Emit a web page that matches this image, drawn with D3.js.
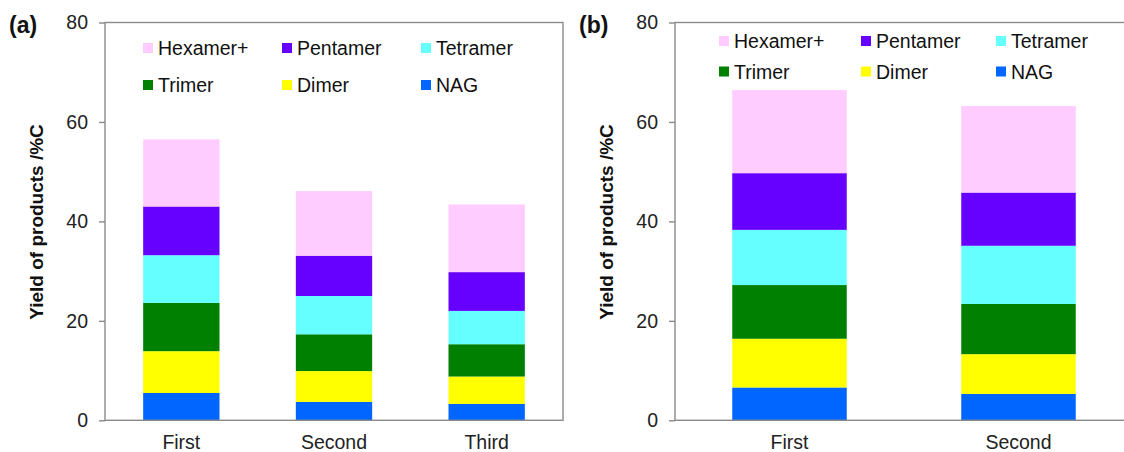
<!DOCTYPE html>
<html>
<head>
<meta charset="utf-8">
<script src="https://cdn.jsdelivr.net/npm/d3@7"></script>
<style>
  body { margin: 0; background: #fff; }
  svg { display: block; font-family: Arial, "Liberation Sans", sans-serif; }
</style>
</head>
<body>
<div id="vis"></div>
<script>
// series, bottom to top
const series = ["NAG", "Dimer", "Trimer", "Tetramer", "Pentamer", "Hexamer+"];
const colors = ["#0066FF", "#FFFF00", "#008000", "#66FFFF", "#6600FF", "#FFCCFF"];
const legendOrder = ["Hexamer+", "Pentamer", "Tetramer", "Trimer", "Dimer", "NAG"];

// panel (a)
const catsA = ["First", "Second", "Third"];
const aFirst  = [5.5, 8.4, 9.7, 9.6, 9.8, 13.5];
const aSecond = [3.7, 6.2, 7.4, 7.7, 8.1, 13.0];
const aThird  = [3.3, 5.5, 6.5, 6.7, 7.8, 13.6];

// panel (b)
const catsB = ["First", "Second"];
const bFirst  = [6.6, 9.8, 10.8, 11.1, 11.4, 16.7];
const bSecond = [5.3, 8.0, 10.1, 11.7, 10.7, 17.4];

const yTicks = [0, 20, 40, 60, 80];

const width = 1124, height = 452;
const fs = "19.5px";
const svg = d3.select("#vis").append("svg")
  .attr("width", width).attr("height", height);

const color = d3.scaleOrdinal().domain(series).range(colors);

function drawPanel(opt) {
  const g = svg.append("g");
  const x = d3.scaleBand().domain(opt.cats)
    .range([opt.left, opt.left + 458]).paddingInner(0.5).paddingOuter(0.25);
  const y = d3.scaleLinear().domain([0, 80]).range([420.3, 22.5]);

  const rows = opt.cats.map((c, i) => {
    const r = { cat: c };
    series.forEach((s, j) => r[s] = opt.rows[i][j]);
    return r;
  });
  const stacked = d3.stack().keys(series)(rows);

  g.selectAll("g.layer").data(stacked).join("g")
    .attr("class", "layer")
    .attr("fill", d => color(d.key))
    .selectAll("rect").data(d => d).join("rect")
    .attr("x", d => x(d.data.cat))
    .attr("width", x.bandwidth())
    .attr("y", d => y(d[1]))
    .attr("height", d => y(d[0]) - y(d[1]));

  // frame
  g.append("rect")
    .attr("x", opt.left).attr("y", y(80))
    .attr("width", 458).attr("height", y(0) - y(80))
    .attr("fill", "none").attr("stroke", "#8a8a8a").attr("stroke-width", 1.4);

  const ya = g.append("g")
    .attr("transform", `translate(${opt.left},0)`)
    .call(d3.axisLeft(y).tickValues(yTicks).tickSize(6).tickPadding(11).tickSizeOuter(0));
  ya.select(".domain").remove();
  ya.selectAll(".tick line").attr("stroke", "#8a8a8a").attr("stroke-width", 1.4);
  ya.selectAll(".tick text").attr("font-size", fs).attr("fill", "#222")
    .attr("font-family", "Arial, 'Liberation Sans', sans-serif");

  // category labels
  g.selectAll("text.cat").data(opt.cats).join("text")
    .attr("class", "cat")
    .attr("x", d => x(d) + x.bandwidth() / 2)
    .attr("y", 449)
    .attr("text-anchor", "middle")
    .attr("font-size", fs).attr("fill", "#222")
    .text(d => d);

  // y title
  g.append("text")
    .attr("transform", `translate(${opt.left - 62},222) rotate(-90)`)
    .attr("text-anchor", "middle")
    .attr("font-size", "19px").attr("font-weight", "bold").attr("fill", "#111")
    .text("Yield of products /%C");

  // panel label
  g.append("text")
    .attr("x", opt.left - 96).attr("y", 33)
    .attr("font-size", "23px").attr("font-weight", "bold").attr("fill", "#111")
    .text(opt.label);

  // legend
  const lg = g.selectAll("g.leg").data(legendOrder).join("g")
    .attr("class", "leg")
    .attr("transform", (d, i) =>
      `translate(${opt.legX[i % 3]},${opt.legY[Math.floor(i / 3)]})`);
  lg.append("rect")
    .attr("x", 0).attr("y", -5).attr("width", 10).attr("height", 10)
    .attr("fill", d => color(d));
  lg.append("text")
    .attr("x", 15).attr("y", 7)
    .attr("font-size", fs).attr("fill", "#111")
    .text(d => d);
}

drawPanel({
  label: "(a)", left: 105, cats: catsA,
  rows: [aFirst, aSecond, aThird],
  legX: [143, 282, 421], legY: [48, 85]
});

drawPanel({
  label: "(b)", left: 675, cats: catsB,
  rows: [bFirst, bSecond],
  legX: [719, 861, 996], legY: [41, 71.5]
});
</script>
</body>
</html>
